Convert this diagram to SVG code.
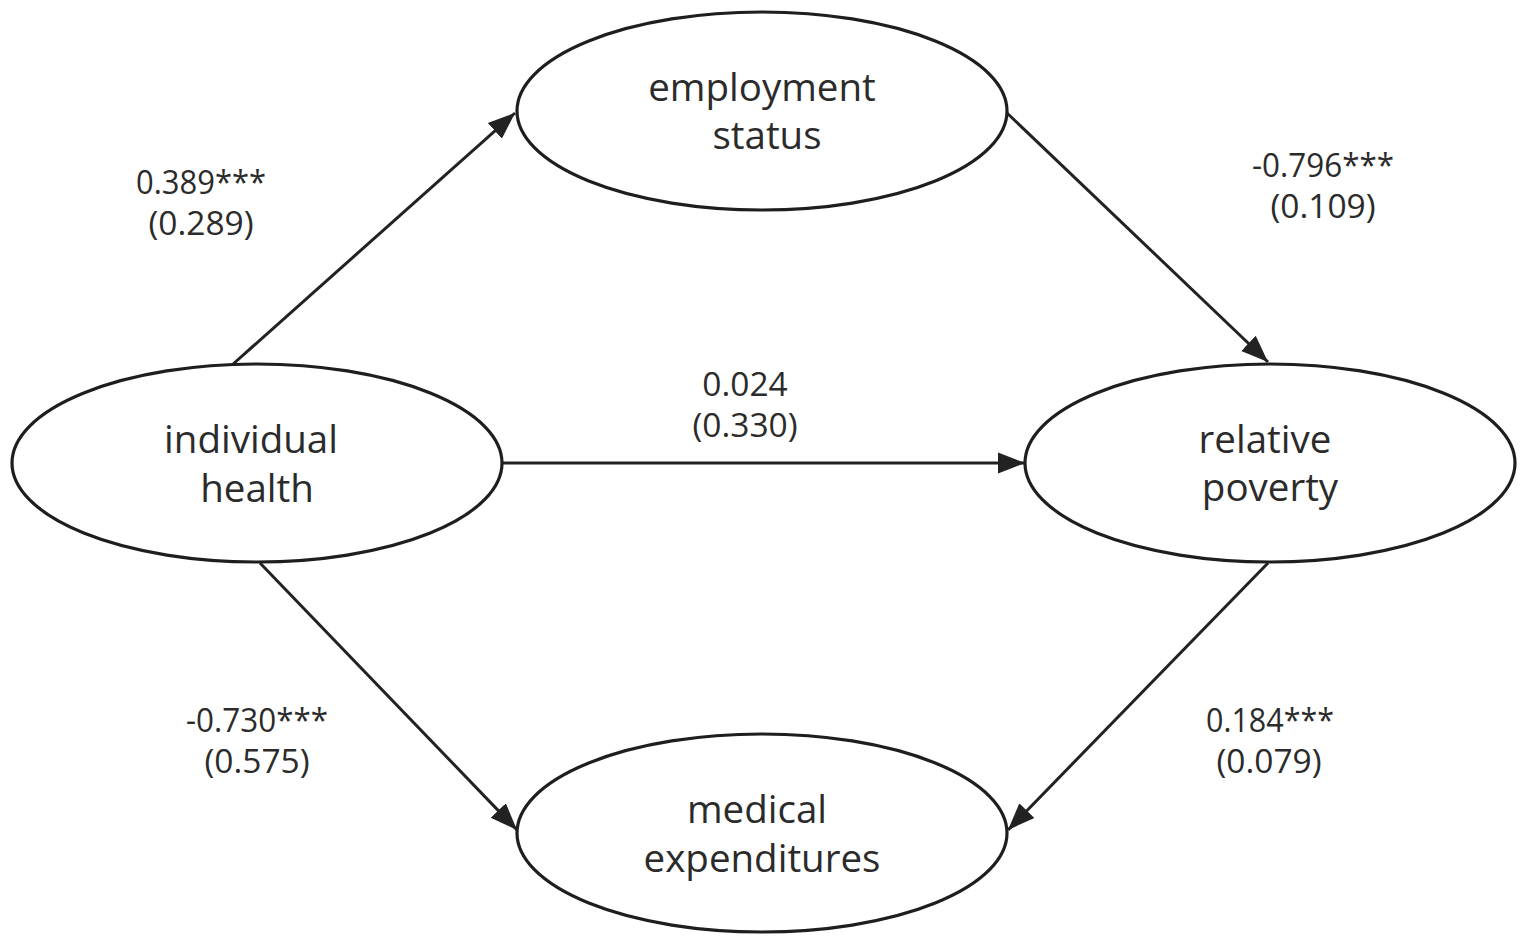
<svg xmlns="http://www.w3.org/2000/svg" width="1527" height="945" viewBox="0 0 1527 945">
<style>
.node ellipse { fill: #ffffff; stroke: #1e1e1e; stroke-width: 3.2; }
.node text { font-family: "Open Sans", "Noto Sans", "DejaVu Sans", sans-serif; font-size: 38.5px; fill: #2b2b2b; text-anchor: middle; }
.edge line { stroke: #222222; stroke-width: 3; marker-end: url(#arrow); }
.lbl text { font-family: "Open Sans", "Noto Sans", "DejaVu Sans", sans-serif; font-size: 33.5px; fill: #2b2b2b; text-anchor: middle; }
</style>
<defs>
<marker id="arrow" markerUnits="userSpaceOnUse" markerWidth="28" markerHeight="24" viewBox="0 0 28 24" refX="27" refY="12" orient="auto">
<path d="M0,1.5 L27,12 L0,22.5 Z" fill="#222222"/>
</marker>
</defs>
<rect width="1527" height="945" fill="#ffffff"/>
<g id="connectors" class="edge">
<line x1="232" y1="365" x2="515" y2="113"/>
<line x1="502" y1="463" x2="1025" y2="463"/>
<line x1="260" y1="563" x2="517" y2="830"/>
<line x1="1007" y1="113" x2="1268" y2="362"/>
<line x1="1268" y1="563" x2="1008" y2="830"/>
</g>
<g id="node-employment" class="node">
<ellipse cx="762" cy="111" rx="245" ry="99"/>
<text><tspan x="762" y="101">employment</tspan><tspan x="767" y="149">status</tspan></text>
</g>
<g id="node-individual" class="node">
<ellipse cx="257" cy="463" rx="245" ry="99"/>
<text><tspan x="251" y="453">individual</tspan><tspan x="257" y="502">health</tspan></text>
</g>
<g id="node-poverty" class="node">
<ellipse cx="1270" cy="463" rx="245" ry="99"/>
<text><tspan x="1265" y="453">relative</tspan><tspan x="1270" y="501">poverty</tspan></text>
</g>
<g id="node-medical" class="node">
<ellipse cx="762" cy="833" rx="245" ry="99"/>
<text><tspan x="757" y="823">medical</tspan><tspan x="762" y="872">expenditures</tspan></text>
</g>
<g id="labels" class="lbl">
<text><tspan x="201" y="194" textLength="130" lengthAdjust="spacingAndGlyphs">0.389***</tspan><tspan x="201" y="235">(0.289)</tspan></text>
<text><tspan x="745" y="396">0.024</tspan><tspan x="745" y="437">(0.330)</tspan></text>
<text><tspan x="1323" y="177" textLength="142" lengthAdjust="spacingAndGlyphs">-0.796***</tspan><tspan x="1323" y="218">(0.109)</tspan></text>
<text><tspan x="257" y="732" textLength="142" lengthAdjust="spacingAndGlyphs">-0.730***</tspan><tspan x="257" y="773">(0.575)</tspan></text>
<text><tspan x="1270" y="732" textLength="128" lengthAdjust="spacingAndGlyphs">0.184***</tspan><tspan x="1269" y="773">(0.079)</tspan></text>
</g>
</svg>
